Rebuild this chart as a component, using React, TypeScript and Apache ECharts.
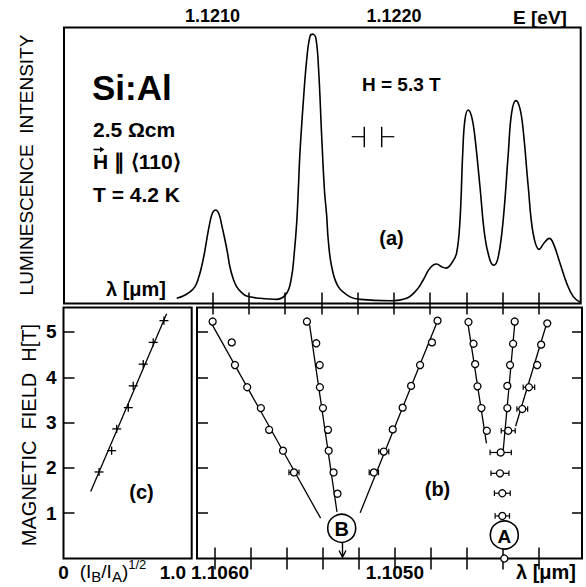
import React, { useEffect, useRef } from "react";
import * as echarts from "echarts";

// ---------- panel (a): luminescence spectrum ----------
const specE = [
  1.120803, 1.120839, 1.120876, 1.120904, 1.120923, 1.12094, 1.120956, 1.120968, 1.120983, 1.121,
  1.121018, 1.121036, 1.121052, 1.121069, 1.121083, 1.121096, 1.121113, 1.121133, 1.121157, 1.121188,
  1.121262, 1.121354, 1.121409, 1.121436, 1.121449, 1.121464, 1.121473, 1.121482, 1.1215, 1.121519,
  1.121537, 1.121552, 1.12157, 1.121585, 1.121602, 1.121617, 1.121629, 1.121638, 1.121657, 1.121693,
  1.121758, 1.121813, 1.121978, 1.12207, 1.122125, 1.122161, 1.122198, 1.122235, 1.122263, 1.122287,
  1.122318, 1.122345, 1.122364, 1.122379, 1.122391, 1.122409, 1.122428, 1.122446, 1.122474, 1.122501,
  1.122529, 1.122551, 1.122575, 1.122602, 1.12263, 1.122648, 1.122672, 1.122694, 1.122712, 1.12274,
  1.122767, 1.122801, 1.122826, 1.122856, 1.122878, 1.122915, 1.122952, 1.122988, 1.123025,
];
const specI = [
  1.9, 2.7, 4.2, 6.1, 9.2, 13.3, 18.3, 23.0, 28.4, 32.8,
  33.9, 32.4, 28.1, 23.0, 18.3, 13.3, 9.2, 6.1, 4.2, 2.7,
  1.9, 1.5, 3.7, 9.7, 17.0, 29.1, 41.1, 54.5, 72.6, 88.2,
  96.7, 97.6, 96.1, 84.6, 60.4, 41.1, 32.1, 23.0, 13.3, 6.1,
  2.4, 1.5, 1.0, 1.9, 4.9, 8.5, 12.8, 14.3, 13.3, 12.8,
  14.6, 18.2, 30.3, 54.5, 66.5, 70.1, 67.7, 60.4, 42.3, 24.2,
  15.8, 13.9, 17.0, 30.3, 54.4, 68.9, 73.5, 70.7, 62.9, 42.3,
  25.4, 19.6, 21.8, 23.6, 21.8, 14.6, 7.3, 2.5, 0.5,
];
const eTicks = [1.121, 1.1212, 1.1214, 1.1216, 1.1218, 1.122, 1.1222, 1.1224, 1.1226, 1.1228];
const eLabels = [1.121, 1.122];

// ---------- panel (c): field vs intensity ratio ----------
const cRatio = [0.316, 0.428, 0.473, 0.576, 0.62, 0.709, 0.798, 0.893];
const cField = [1.91, 2.38, 2.86, 3.33, 3.81, 4.29, 4.77, 5.25];
const cFitRatio = [0.242, 0.917];
const cFitField = [1.48, 5.4];
const ratioLabels = [0, 1.0];
const hTicks = [1, 2, 3, 4, 5];

// ---------- panel (b): Zeeman fan ----------
const lamTicks = [1.106, 1.1058, 1.1056, 1.1054, 1.1052, 1.105, 1.1048, 1.1046, 1.1044, 1.1042];
const lamLabels = [1.106, 1.105];

const bLeftLam = [1.106013, 1.105907, 1.105889, 1.105821, 1.105745, 1.105699, 1.105622, 1.105561];
const bLeftH = [5.23, 4.77, 4.27, 3.78, 3.32, 2.84, 2.38, 1.9];
const bMidLam = [1.105489, 1.105437, 1.105418, 1.105417, 1.1054, 1.105372, 1.105368, 1.105341, 1.105319];
const bMidH = [5.23, 4.75, 4.27, 3.78, 3.32, 2.84, 2.38, 1.9, 1.43];
const bRightLam = [1.105117, 1.105062, 1.105012, 1.104957, 1.10491, 1.10486, 1.104794, 1.104763];
const bRightH = [1.9, 2.36, 2.85, 3.33, 3.81, 4.27, 4.77, 5.25];
const aLeftLam = [1.104591, 1.104563, 1.104554, 1.104541, 1.104519, 1.104489];
const aLeftH = [5.22, 4.74, 4.29, 3.8, 3.32, 2.82];
const aMidLam = [1.104334, 1.104343, 1.10436, 1.104375, 1.104375, 1.10437, 1.104412, 1.104416, 1.104403, 1.104403, 1.104392];
const aMidH = [5.23, 4.74, 4.27, 3.81, 3.32, 2.82, 2.34, 1.88, 1.44, 0.94, 0.0];
const aRightLam = [1.104153, 1.104187, 1.104209, 1.104255, 1.104292];
const aRightH = [5.19, 4.72, 4.27, 3.78, 3.3];

// error bars (wavelength half-widths)
const errLam = [1.105561, 1.105117, 1.105062, 1.104255, 1.104292, 1.10437, 1.104412, 1.104416, 1.104403, 1.104403];
const errH = [1.9, 1.9, 2.36, 3.78, 3.3, 2.82, 2.34, 1.88, 1.44, 0.94];
const errW = [0.000028, 0.000026, 0.000028, 0.000032, 0.00003, 0.000039, 0.000059, 0.00005, 0.000044, 0.00004];

// fitted lines [start, end]
const fitLam = [
  [1.106018, 1.105413],
  [1.105474, 1.105322],
  [1.105193, 1.104763],
  [1.104597, 1.104491],
  [1.104332, 1.104399],
  [1.104153, 1.104329],
];
const fitH = [
  [5.18, 0.89],
  [5.15, 1.03],
  [1.01, 5.24],
  [5.26, 2.54],
  [5.26, 2.34],
  [5.23, 2.92],
];

const FONT = "Liberation Sans";
const BLACK = "#000";

function zip(a: number[], b: number[]) {
  return a.map((v, i) => [v, b[i]]);
}

export default function App() {
  const ref = useRef<HTMLDivElement>(null);

  useEffect(() => {
    document.body.style.margin = "0";
    const chart = echarts.init(ref.current!, undefined, { renderer: "svg" });

    const tickStyle = { color: BLACK, width: 1.5 };
    const labelBase = { color: BLACK, fontSize: 18, fontWeight: "bold" as const, fontFamily: FONT };

    const bPoints = [
      ...zip(bLeftLam, bLeftH),
      ...zip(bMidLam, bMidH),
      ...zip(bRightLam, bRightH),
      ...zip(aLeftLam, aLeftH),
      ...zip(aMidLam, aMidH),
      ...zip(aRightLam, aRightH),
    ];

    const txt = (text: string, x: number, y: number, size: number, extra: any = {}) => ({
      type: "text",
      x,
      y,
      silent: true,
      style: {
        text,
        fontSize: size,
        fontFamily: FONT,
        fontWeight: "bold",
        fill: BLACK,
        align: "left",
        verticalAlign: "middle",
        ...extra,
      },
    });
    const ln = (x1: number, y1: number, x2: number, y2: number, w = 1.3) => ({
      type: "line",
      silent: true,
      shape: { x1, y1, x2, y2 },
      style: { stroke: BLACK, lineWidth: w },
    });

    const option: any = {
      animation: false,
      backgroundColor: "#fff",
      grid: [
        { left: 64, top: 27.5, width: 516.7, height: 276, show: true, borderColor: BLACK, borderWidth: 2, backgroundColor: "transparent" },
        { left: 63.5, top: 307.5, width: 128.2, height: 251, show: true, borderColor: BLACK, borderWidth: 2, backgroundColor: "transparent" },
        { left: 197, top: 307.5, width: 385, height: 251, show: true, borderColor: BLACK, borderWidth: 2, backgroundColor: "transparent" },
      ],
      xAxis: [
        {
          gridIndex: 0, type: "value", position: "top", min: 1.120182, max: 1.123029,
          axisLine: { show: false }, splitLine: { show: false },
          axisTick: { show: true, inside: true, length: 11, customValues: eTicks, lineStyle: tickStyle },
          axisLabel: { ...labelBase, margin: 3, customValues: eLabels, formatter: (v: number) => v.toFixed(4) },
        },
        {
          gridIndex: 0, type: "value", position: "bottom", min: 1.120182, max: 1.123029,
          axisLine: { show: false }, splitLine: { show: false },
          axisTick: { show: true, inside: true, length: 11, customValues: eTicks, lineStyle: tickStyle },
          axisLabel: { show: false },
        },
        {
          gridIndex: 1, type: "value", position: "bottom", min: 0, max: 1.14,
          axisLine: { show: false }, splitLine: { show: false },
          axisTick: { show: false },
          axisLabel: {
            ...labelBase, fontSize: 19, margin: 4, customValues: ratioLabels,
            formatter: (v: number) => (v === 0 ? "0" : "{q|" + v.toFixed(1) + "}"),
            rich: { q: { fontSize: 19, fontWeight: "bold", fontFamily: FONT, color: BLACK, padding: [0, 6, 0, 0] } },
          },
        },
        {
          gridIndex: 2, type: "value", position: "bottom", min: 1.10396, max: 1.1061, inverse: true,
          axisLine: { show: false }, splitLine: { show: false },
          axisTick: { show: true, inside: true, length: 11, customValues: lamTicks, lineStyle: tickStyle },
          axisLabel: {
            ...labelBase, fontSize: 19, margin: 4, customValues: lamLabels,
            formatter: (v: number) => (Math.abs(v - 1.106) < 1e-7 ? "{r|" + v.toFixed(4) + "}" : v.toFixed(4)),
            rich: { r: { fontSize: 19, fontWeight: "bold", fontFamily: FONT, color: BLACK, padding: [0, 0, 0, 10] } },
          },
        },
        {
          gridIndex: 2, type: "value", position: "top", min: 1.10396, max: 1.1061, inverse: true,
          axisLine: { show: false }, splitLine: { show: false },
          axisTick: { show: true, inside: true, length: 11, customValues: lamTicks, lineStyle: tickStyle },
          axisLabel: { show: false },
        },
      ],
      yAxis: [
        { gridIndex: 0, type: "value", min: 0, max: 100, show: false },
        {
          gridIndex: 1, type: "value", position: "left", min: 0, max: 5.54,
          axisLine: { show: false }, splitLine: { show: false },
          axisTick: { show: true, inside: true, length: 11, customValues: hTicks, lineStyle: tickStyle },
          axisLabel: { ...labelBase, fontSize: 19, margin: 7, customValues: hTicks, formatter: (v: number) => String(Math.round(v)) },
        },
        {
          gridIndex: 2, type: "value", position: "left", min: 0, max: 5.54,
          axisLine: { show: false }, splitLine: { show: false },
          axisTick: { show: true, inside: true, length: 11, customValues: hTicks, lineStyle: tickStyle },
          axisLabel: { show: false },
        },
        {
          gridIndex: 2, type: "value", position: "right", min: 0, max: 5.54,
          axisLine: { show: false }, splitLine: { show: false },
          axisTick: { show: true, inside: true, length: 10, customValues: hTicks, lineStyle: tickStyle },
          axisLabel: { show: false },
        },
      ],
      series: [
        {
          type: "line", xAxisIndex: 0, yAxisIndex: 0, data: zip(specE, specI),
          smooth: 0.4, symbol: "none",
          lineStyle: { color: BLACK, width: 1.6 },
        },
        {
          type: "line", xAxisIndex: 2, yAxisIndex: 1, data: zip(cFitRatio, cFitField),
          symbol: "none", lineStyle: { color: BLACK, width: 1.3 },
        },
        {
          type: "custom", xAxisIndex: 2, yAxisIndex: 1, data: zip(cRatio, cField),
          encode: { x: 0, y: 1 },
          renderItem: (_p: any, api: any) => {
            const x = api.value(0), y = api.value(1);
            const a = api.coord([x - 0.04, y]);
            const b = api.coord([x + 0.04, y]);
            const c = api.coord([x, y - 0.09]);
            const d = api.coord([x, y + 0.09]);
            return {
              type: "group",
              children: [
                { type: "line", shape: { x1: a[0], y1: a[1], x2: b[0], y2: b[1] }, style: { stroke: BLACK, lineWidth: 1.3 } },
                { type: "line", shape: { x1: c[0], y1: c[1], x2: d[0], y2: d[1] }, style: { stroke: BLACK, lineWidth: 1.3 } },
              ],
            };
          },
        },
        ...fitLam.map((l, i) => ({
          type: "line", xAxisIndex: 3, yAxisIndex: 2, data: zip(l, fitH[i]),
          symbol: "none", lineStyle: { color: BLACK, width: 1.3 },
        })),
        {
          type: "custom", xAxisIndex: 3, yAxisIndex: 2,
          data: errLam.map((l, i) => [l, errH[i], errW[i]]),
          encode: { x: 0, y: 1 },
          renderItem: (_p: any, api: any) => {
            const x = api.value(0), y = api.value(1), e = api.value(2);
            const a = api.coord([x - e, y]);
            const b = api.coord([x + e, y]);
            const cap = 2.8;
            const st = { stroke: BLACK, lineWidth: 1.2 };
            return {
              type: "group",
              children: [
                { type: "line", shape: { x1: a[0], y1: a[1], x2: b[0], y2: b[1] }, style: st },
                { type: "line", shape: { x1: a[0], y1: a[1] - cap, x2: a[0], y2: a[1] + cap }, style: st },
                { type: "line", shape: { x1: b[0], y1: b[1] - cap, x2: b[0], y2: b[1] + cap }, style: st },
              ],
            };
          },
        },
        {
          type: "scatter", xAxisIndex: 3, yAxisIndex: 2, data: bPoints, clip: false, z: 5,
          symbol: "circle", symbolSize: 7,
          itemStyle: { color: "#fff", borderColor: BLACK, borderWidth: 1.3, opacity: 1 },
        },
      ],
      graphic: [
        // vertical axis titles (rotated below)
        txt("LUMINESCENCE  INTENSITY", 26, 165, 19, { fontWeight: "normal", align: "center" }),
        txt("MAGNETIC  FIELD  H[T]", 28.5, 435, 20, { fontWeight: "normal", align: "center" }),
        // axis names
        txt("E [eV]", 540, 17, 19, { align: "center" }),
        txt("λ [μm]", 546, 571.5, 20, { align: "center" }),
        txt("λ [μm]", 136, 289, 20, { align: "center" }),
        {
          type: "text", x: 113, y: 571, silent: true,
          style: {
            text: "{n|(I}{s|B}{n|/I}{s|A}{n|)}{p|1/2}",
            align: "center", verticalAlign: "middle", fill: BLACK,
            rich: {
              n: { fontSize: 19, fontFamily: FONT, lineHeight: 26, fill: BLACK },
              s: { fontSize: 15, fontFamily: FONT, verticalAlign: "bottom", fill: BLACK },
              p: { fontSize: 13, fontFamily: FONT, verticalAlign: "top", fill: BLACK },
            },
          },
        },
        // panel (a) annotations
        txt("Si:Al", 92, 87, 35),
        txt("2.5 Ωcm", 93, 129, 21),
        txt("H ∥ ⟨110⟩", 93, 161, 21),
        ln(93.5, 149.5, 102, 149.5, 1.6),
        { type: "polygon", silent: true, shape: { points: [[104.5, 149.5], [100, 146.8], [100, 152.2]] }, style: { fill: BLACK } },
        txt("T = 4.2 K", 93, 194, 21),
        txt("H = 5.3 T", 362, 84, 19),
        txt("(a)", 391.5, 238, 20, { align: "center" }),
        ln(351.7, 136.7, 364.3, 136.7, 1.2),
        ln(364.3, 126.7, 364.3, 147.3, 1.4),
        ln(381.7, 126.7, 381.7, 147.3, 1.4),
        ln(381.7, 136.7, 394.3, 136.7, 1.2),
        // panel (b),(c) labels
        txt("(b)", 437.5, 489, 20, { align: "center" }),
        txt("(c)", 141.5, 492, 20, { align: "center" }),
        { type: "circle", silent: true, shape: { cx: 341.7, cy: 528.3, r: 14 }, style: { fill: "#fff", stroke: BLACK, lineWidth: 1.6 }, z: 10 },
        { ...txt("B", 341.7, 529, 20, { align: "center" }), z: 11 },
        ln(342.5, 542.5, 342.5, 557, 1.4),
        { type: "polyline", silent: true, shape: { points: [[339, 550.5], [342.5, 557], [346, 550.5]] }, style: { stroke: BLACK, lineWidth: 1.4, fill: "none" } },
        { type: "circle", silent: true, shape: { cx: 504.3, cy: 535, r: 14 }, style: { fill: "#fff", stroke: BLACK, lineWidth: 1.6 }, z: 10 },
        { ...txt("A", 504.3, 536, 19, { align: "center" }), z: 11 },
      ],
    };

    option.graphic[0].rotation = Math.PI / 2;
    option.graphic[1].rotation = Math.PI / 2;

    chart.setOption(option);
    return () => chart.dispose();
  }, []);

  return (
    <div
      ref={ref}
      style={{ position: "fixed", left: 0, top: 0, width: 586, height: 587, background: "#fff" }}
    />
  );
}
